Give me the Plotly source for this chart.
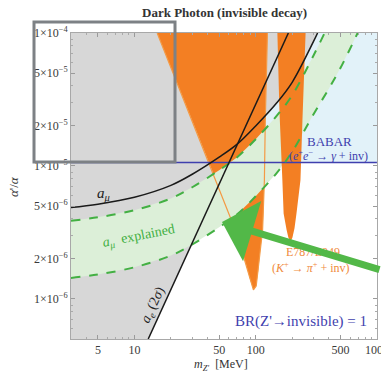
import plotly.graph_objects as go

# ---- curves (m_Z' in MeV, alpha'/alpha) ----
# a_mu exclusion curve
amu_m = [3, 5, 10, 20, 30, 50, 70, 100, 150, 200, 300, 324]
amu_v = [4.87e-6, 5.16e-6, 5.82e-6, 7.15e-6, 8.67e-6, 1.165e-5, 1.453e-5,
         2.0e-5, 3.0e-5, 4.26e-5, 8.64e-5, 1.0e-4]

# a_mu explained band (upper / lower edges)
band_up_m = [3, 5, 10, 20, 30, 50, 70, 100, 150, 200, 300, 370]
band_up_v = [3.88e-6, 4.11e-6, 4.65e-6, 5.70e-6, 6.92e-6, 9.30e-6, 1.159e-5,
             1.59e-5, 2.40e-5, 3.40e-5, 6.78e-5, 1.0e-4]
band_lo_m = [3, 5, 10, 20, 30, 50, 70, 100, 150, 200, 300, 400, 500, 693]
band_lo_v = [1.44e-6, 1.53e-6, 1.73e-6, 2.12e-6, 2.57e-6, 3.46e-6, 4.31e-6,
             5.92e-6, 8.93e-6, 1.28e-5, 2.45e-5, 3.80e-5, 5.45e-5, 1.0e-4]

# a_e (2 sigma) line
ae_m = [13, 186]
ae_v = [5e-7, 1e-4]

# BABAR e+e- -> gamma + inv limit
babar_v = 1.06e-5

# E787/E949 K+ -> pi+ + inv excluded regions
k1_m = [15.4, 44.7, 61.8, 74.8, 83.8, 90.5, 95.8, 101, 105, 109, 114, 116, 118, 120, 125]
k1_v = [1e-4, 8.8e-6, 4.1e-6, 2.5e-6, 1.78e-6, 1.37e-6, 1.17e-6, 1.25e-6,
        1.63e-6, 2.3e-6, 3.26e-6, 4.6e-6, 7.8e-6, 2.2e-5, 1e-4]
k2_m = [151, 157, 166, 170, 180, 186, 194, 201, 209, 217, 234, 243, 258]
k2_v = [1e-4, 2.6e-5, 7.8e-6, 4.4e-6, 3.3e-6, 2.9e-6, 2.7e-6, 2.9e-6,
        3.4e-6, 4.4e-6, 7.8e-6, 2.2e-5, 1e-4]

# axis limits and ticks
x_min, x_max = 3, 1000
y_min, y_max = 5e-7, 1e-4
x_ticks = [5, 10, 50, 100, 500, 1000]
y_ticks = [1e-6, 2e-6, 5e-6, 1e-5, 2e-5, 5e-5, 1e-4]
y_ticktext = ["1×10<sup>−6</sup>", "2×10<sup>−6</sup>", "5×10<sup>−6</sup>",
              "1×10<sup>−5</sup>", "2×10<sup>−5</sup>", "5×10<sup>−5</sup>",
              "1×10<sup>−4</sup>"]

GRAY = "#d7d7d7"
LBLUE = "#e2f2f9"
LGREEN = "#dcefd8"
ORANGE = "#f37f23"
ORANGE_LINE = "#f49a45"
GREEN = "#43b043"
BLUE = "#3f3fae"
SERIF = "Liberation Serif, Times New Roman, Times, serif"

fig = go.Figure()

# BABAR excluded region
fig.add_trace(go.Scatter(x=[x_min, x_max, x_max, x_min], y=[babar_v, babar_v, y_max, y_max],
                         fill="toself", fillcolor=LBLUE, mode="none", hoverinfo="skip"))
# a_e excluded region
fig.add_trace(go.Scatter(x=[x_min] + ae_m + [x_min], y=[y_min] + ae_v + [y_max],
                         fill="toself", fillcolor=GRAY, mode="none", hoverinfo="skip"))
# a_mu excluded region
fig.add_trace(go.Scatter(x=amu_m + [x_min], y=amu_v + [y_max],
                         fill="toself", fillcolor=GRAY, mode="none", hoverinfo="skip"))
# E787/E949 low-mass window
fig.add_trace(go.Scatter(x=k1_m, y=k1_v, fill="toself", fillcolor=ORANGE,
                         mode="none", hoverinfo="skip"))
# a_mu explained band
fig.add_trace(go.Scatter(x=band_up_m + band_lo_m[::-1], y=band_up_v + band_lo_v[::-1],
                         fill="toself", fillcolor=LGREEN, mode="none", hoverinfo="skip"))
# E787/E949 high-mass window
fig.add_trace(go.Scatter(x=k2_m, y=k2_v, fill="toself", fillcolor=ORANGE,
                         mode="none", hoverinfo="skip"))
# outline of the low-mass window
fig.add_trace(go.Scatter(x=k1_m, y=k1_v, mode="lines",
                         line=dict(color=ORANGE_LINE, width=1.2), hoverinfo="skip"))
# BABAR line
fig.add_trace(go.Scatter(x=[x_min, x_max], y=[babar_v, babar_v], mode="lines",
                         line=dict(color=BLUE, width=1.5), hoverinfo="skip"))
# band edges
for bm, bv in ((band_up_m, band_up_v), (band_lo_m, band_lo_v)):
    fig.add_trace(go.Scatter(x=bm, y=bv, mode="lines",
                             line=dict(color=GREEN, width=2, dash="dash", shape="spline"),
                             hoverinfo="skip"))
# a_mu and a_e curves
fig.add_trace(go.Scatter(x=amu_m, y=amu_v, mode="lines",
                         line=dict(color="#1a1a1a", width=1.5, shape="spline"), hoverinfo="skip"))
fig.add_trace(go.Scatter(x=ae_m, y=ae_v, mode="lines",
                         line=dict(color="#1a1a1a", width=1.5), hoverinfo="skip"))


def minor_vals(lo_exp, hi_exp, skip=(1,)):
    vals = []
    for e in range(lo_exp, hi_exp + 1):
        for k in range(1, 10):
            if k not in skip:
                vals.append(k * 10 ** e)
    return vals


axis_common = dict(type="log", showgrid=False, zeroline=False, showline=True,
                   linecolor="#a8a8a8", linewidth=1, mirror="allticks",
                   ticks="inside", ticklen=4, tickcolor="#9a9a9a",
                   ticklabeloverflow="allow", automargin=False,
                   tickfont=dict(family=SERIF, size=12, color="#3a3a3a"))

fig.update_xaxes(range=[0.47712, 3.0005], tickmode="array", tickvals=x_ticks,
                 ticktext=[str(t) for t in x_ticks],
                 minor=dict(tickmode="array", tickvals=minor_vals(0, 2, skip=(1, 5)),
                            ticks="inside", ticklen=2, tickcolor="#aaaaaa"),
                 **axis_common)
fig.update_yaxes(range=[-6.30103, -4], tickmode="array", tickvals=y_ticks,
                 ticktext=y_ticktext,
                 minor=dict(tickmode="array", tickvals=minor_vals(-7, -5, skip=(1, 2, 5)),
                            ticks="inside", ticklen=2, tickcolor="#aaaaaa"),
                 **axis_common)


def ann(text, x, y, size=12, color="#222", angle=0, **kw):
    fig.add_annotation(text=text, x=x, y=y, xref="paper", yref="paper", showarrow=False,
                       font=dict(family=SERIF, size=size, color=color), textangle=angle,
                       xanchor="center", yanchor="middle", **kw)


ann("<b>Dark Photon (invisible decay)</b>", 0.5, 1.0686, size=13, color="#333")
ann("<i>α</i>'/<i>α</i>", -0.186, 0.497, size=13, color="#333", angle=-90)
ann("<i>m</i><sub><i>Z'</i></sub>  [MeV]", 0.49, -0.085, size=12, color="#333")
ann("<i>a</i><sub><i>μ</i></sub>", 0.1046, 0.474, size=15, color="#222")
ann("<i>a</i><sub><i>μ</i></sub>  explained", 0.222, 0.3366, size=14, color=GREEN, angle=-11)
ann("<i>a<sub>e</sub></i> (2<i>σ</i>)", 0.268, 0.111, size=14, color="#222", angle=-65)
ann("BABAR", 0.846, 0.647, size=13, color=BLUE)
ann("(<i>e</i><sup>+</sup><i>e</i><sup>−</sup> → <i>γ</i> + inv)", 0.84, 0.601, size=12, color=BLUE)
ann("E787/E949", 0.791, 0.284, size=12, color="#f08a3c")
ann("(<i>K</i><sup>+</sup> → <i>π</i><sup>+</sup> + inv)", 0.784, 0.235, size=12, color="#f08a3c")
ann("BR(Z'→invisible) = 1", 0.752, 0.0556, size=15, color=BLUE)

# pointer arrow
fig.add_annotation(x=0.4935, y=0.382, xref="paper", yref="paper", text="",
                   showarrow=True, ax=160, ay=48, arrowhead=1, arrowsize=1.5,
                   arrowwidth=7, arrowcolor="#52b848", standoff=0)

# highlight box
fig.add_shape(type="rect", xref="paper", yref="paper", x0=-0.1209, x1=0.3399,
              y0=0.5784, y1=1.0359, line=dict(color="#7d8185", width=3), layer="above")

fig.update_layout(width=381, height=373, margin=dict(l=71, r=4, t=33, b=34, autoexpand=False),
                  paper_bgcolor="white", plot_bgcolor="white", showlegend=False,
                  font=dict(family=SERIF))

fig.write_html("out.html")
